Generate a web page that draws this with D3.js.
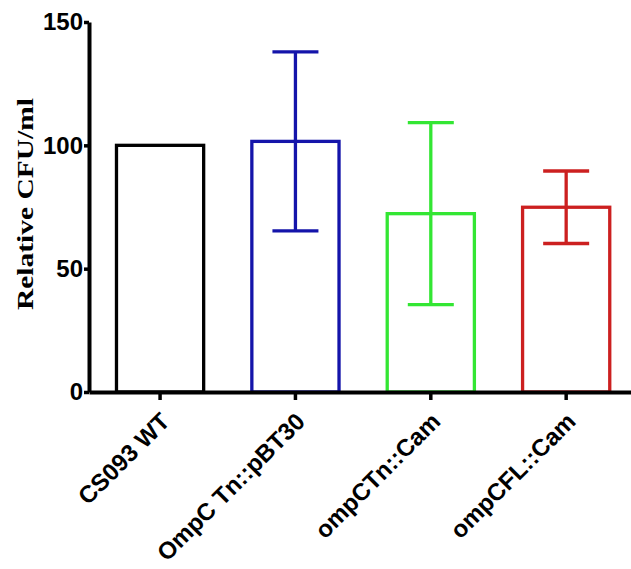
<!DOCTYPE html>
<html>
<head>
<meta charset="utf-8">
<script src="https://cdn.jsdelivr.net/npm/d3@7"></script>
<style>
  body { margin: 0; background: #fff; }
</style>
</head>
<body>
<div class="canvas"></div>
<script>
const categories = ['CS093 WT', 'OmpC Tn::pBT30', 'ompCTn::Cam', 'ompCFL::Cam'];
const means = [100, 101.6, 72.3, 74.9];
const errors = [0, 36.3, 36.9, 14.7];
const colors = ['#000000', '#1414aa', '#33e633', '#cc2020'];
const yTicks = [0, 50, 100, 150];

const width = 631;
const height = 569;

const svg = d3.select('.canvas').append('svg')
  .attr('width', width)
  .attr('height', height);

const data = categories.map((c, i) => ({name: c, mean: means[i], err: errors[i], color: colors[i]}));

// scales
const y = d3.scaleLinear()
  .domain([0, 150])
  .range([392, 22]);

const x = d3.scaleBand()
  .domain(categories)
  .range([89, 631])
  .paddingInner(0.356)
  .paddingOuter(0.18)
  .align(0.564);

// bars
svg.selectAll('rect.bar')
  .data(data)
  .enter()
  .append('rect')
  .attr('class', 'bar')
  .attr('x', d => x(d.name))
  .attr('y', d => y(d.mean))
  .attr('width', x.bandwidth())
  .attr('height', d => y(0) - y(d.mean))
  .attr('fill', 'none')
  .attr('stroke', d => d.color)
  .attr('stroke-width', 3.3);

// error bars
const capHalf = 23;
const errs = svg.selectAll('g.err')
  .data(data.filter(d => d.err > 0))
  .enter()
  .append('g')
  .attr('class', 'err')
  .attr('stroke', d => d.color)
  .attr('stroke-width', 3.3);

errs.append('line')
  .attr('x1', d => x(d.name) + x.bandwidth() / 2)
  .attr('x2', d => x(d.name) + x.bandwidth() / 2)
  .attr('y1', d => y(d.mean + d.err))
  .attr('y2', d => y(d.mean - d.err));

errs.selectAll('line.cap')
  .data(d => [d.mean + d.err, d.mean - d.err].map(v => ({v, cx: x(d.name) + x.bandwidth() / 2})))
  .enter()
  .append('line')
  .attr('class', 'cap')
  .attr('x1', d => d.cx - capHalf)
  .attr('x2', d => d.cx + capHalf)
  .attr('y1', d => y(d.v))
  .attr('y2', d => y(d.v));

// axes
const xAxis = d3.axisBottom(x).tickSize(8).tickSizeOuter(0).tickFormat('');
const yAxis = d3.axisLeft(y).tickValues(yTicks).tickSize(5).tickSizeOuter(0).tickPadding(1);

const xAxisGroup = svg.append('g')
  .attr('transform', `translate(0, ${y(0)})`)
  .call(xAxis);

const yAxisGroup = svg.append('g')
  .attr('transform', 'translate(89, 0)')
  .call(yAxis);

[xAxisGroup, yAxisGroup].forEach(g => {
  g.select('.domain').attr('stroke', '#000').attr('stroke-width', 4);
  g.selectAll('.tick line').attr('stroke', '#000').attr('stroke-width', 3.5);
});

yAxisGroup.selectAll('text')
  .attr('fill', '#000')
  .style('font-family', '"Liberation Sans", Arial, sans-serif')
  .style('font-weight', 'bold')
  .style('font-size', '24px');

// rotated category labels
svg.selectAll('text.cat')
  .data(categories)
  .enter()
  .append('text')
  .attr('class', 'cat')
  .attr('transform', d => `translate(${x(d) + x.bandwidth() / 2 + 11}, 423) rotate(-45)`)
  .attr('text-anchor', 'end')
  .style('font-family', '"Liberation Sans", Arial, sans-serif')
  .style('font-weight', 'bold')
  .style('font-size', '24px')
  .text(d => d);

// y axis title
svg.append('text')
  .attr('transform', 'translate(33, 204) rotate(-90)')
  .attr('text-anchor', 'middle')
  .attr('textLength', 212)
  .attr('lengthAdjust', 'spacingAndGlyphs')
  .style('font-family', '"Liberation Serif", "Times New Roman", serif')
  .style('font-weight', 'bold')
  .style('font-size', '23px')
  .text('Relative CFU/ml');
</script>
</body>
</html>
